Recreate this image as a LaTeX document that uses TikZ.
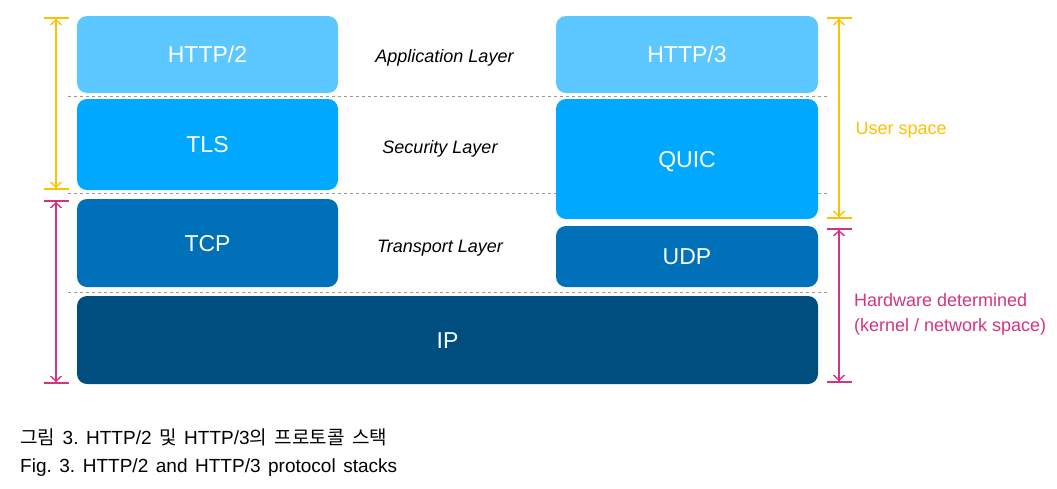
\documentclass[tikz,border=0pt]{standalone}
\usepackage{fontspec}
\setmainfont{Liberation Sans}
\newfontfamily\krfont{Noto Sans CJK KR}
\usetikzlibrary{arrows.meta}

\definecolor{appblue}{HTML}{5CC8FF}
\definecolor{secblue}{HTML}{00A8FF}
\definecolor{trnblue}{HTML}{0071B8}
\definecolor{ipblue}{HTML}{004E80}
\definecolor{userylw}{HTML}{FFC000}
\definecolor{hwpink}{HTML}{D6337F}

\begin{document}
\frenchspacing
\begin{tikzpicture}[x=1pt, y=-1pt,
		box/.style={rectangle, rounded corners=10pt, inner sep=0pt, text=white, font=\fontsize{23}{26}\selectfont, text height=16.5pt, text depth=0pt},
		layer/.style={anchor=base, font=\fontsize{18}{21}\selectfont\itshape},
		side/.style={anchor=base west, align=left, font=\fontsize{18}{25}\selectfont},
		span/.style={line width=1.4pt, {Bar[width=25pt, line width=2pt] Straight Barb[length=5pt, width=11pt]}-{Straight Barb[length=5pt, width=11pt] Bar[width=25pt, line width=2pt]}},
		sep/.style={gray!80, line width=1pt, dash pattern=on 3pt off 3pt},
		caption/.style={anchor=base west, inner sep=0pt, font=\fontsize{19}{22}\selectfont}]
		% \draw[help lines] (0,0) grid[step=50] (1057,488);
		\useasboundingbox (0,0) rectangle (1057,488);

		\draw[sep] (68,96) -- (827,96);
		\draw[sep] (68,193) -- (827,193);
		\draw[sep] (68,292) -- (827,292);

		\node (http2) at (207.5,54.5) [box, fill=appblue, minimum width=261pt, minimum height=77pt] {HTTP/2};
		\node (tls) at (207.5,144.5) [box, fill=secblue, minimum width=261pt, minimum height=91pt] {TLS};
		\node (tcp) at (207.5,243) [box, fill=trnblue, minimum width=261pt, minimum height=88pt] {TCP};
		\node (ip) at (447.5,340) [box, fill=ipblue, minimum width=741pt, minimum height=88pt] {IP};
		\node (http3) at (687,54.5) [box, fill=appblue, minimum width=262pt, minimum height=77pt] {HTTP/3};
		\node (quic) at (687,159) [box, fill=secblue, minimum width=262pt, minimum height=120pt] {QUIC};
		\node (udp) at (687,256.5) [box, fill=trnblue, minimum width=262pt, minimum height=61pt] {UDP};

		\node (app) at (444.5,62) [layer] {Application Layer};
		\node (sec) at (440,153) [layer] {Security Layer};
		\node (trn) at (440,252.5) [layer] {Transport Layer};

		\coordinate (ul1) at (56,17);
		\coordinate (ul2) at (56,190);
		\coordinate (hl1) at (56,200);
		\coordinate (hl2) at (56,384);
		\coordinate (ur1) at (839,17);
		\coordinate (ur2) at (839,219);
		\coordinate (hr1) at (839,228);
		\coordinate (hr2) at (839,383);
		\draw[span, userylw] (ul1) -- (ul2);
		\draw[span, hwpink] (hl1) -- (hl2);
		\draw[span, userylw] (ur1) -- (ur2);
		\draw[span, hwpink] (hr1) -- (hr2);

		\node (user) at (852,134.5) [side, text=userylw] {User space};
		\node (hw) at (850.5,331) [side, text=hwpink] {Hardware determined\\(kernel / network space)};

		\node (capkr) at (20,444) [caption] {\makebox[367pt][s]{{\krfont 그림} 3. HTTP/2 {\krfont 및} HTTP/3{\krfont 의} {\krfont 프로토콜} {\krfont 스택}}};
		\node (capen) at (20,472) [caption] {\makebox[377pt][s]{Fig. 3. HTTP/2 and HTTP/3 protocol stacks}};
	\end{tikzpicture}
\end{document}
